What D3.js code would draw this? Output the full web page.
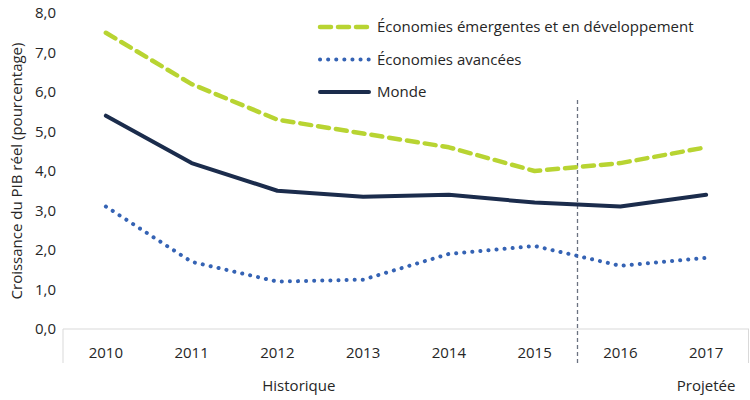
<!DOCTYPE html>
<html>
<head>
<meta charset="utf-8">
<script src="https://cdn.jsdelivr.net/npm/d3@7"></script>
<style>
  body { margin: 0; background: #fff; }
  text { font-family: "Open Sans", "Noto Sans", sans-serif; fill: #262626; }
</style>
</head>
<body>
<script>
// donnees
var annees = ["2010", "2011", "2012", "2013", "2014", "2015", "2016", "2017"];
var emergentes = [7.5, 6.2, 5.3, 4.95, 4.6, 4.0, 4.2, 4.6];
var avancees = [3.1, 1.7, 1.2, 1.25, 1.9, 2.1, 1.6, 1.8];
var monde = [5.4, 4.2, 3.5, 3.35, 3.4, 3.2, 3.1, 3.4];
var ticksY = [0, 1, 2, 3, 4, 5, 6, 7, 8];

var series = [
    { nom: "Économies émergentes et en développement", valeurs: emergentes, couleur: "#b8d432", dash: "11,7", largeur: 4.5, cap: "round" },
    { nom: "Économies avancées", valeurs: avancees, couleur: "#3563b4", dash: "0.1,8", largeur: 4, cap: "round" },
    { nom: "Monde", valeurs: monde, couleur: "#1b2c4c", dash: null, largeur: 4, cap: "round" }
];

var ancho = 750, altura = 400;
var margen = { superior: 13, derecho: 1, inferior: 71, izquierdo: 63 };

var svg = d3.select("body").append("svg")
    .attr("width", ancho)
    .attr("height", altura);

var x = d3.scaleBand()
    .domain(annees)
    .range([margen.izquierdo, ancho - margen.derecho]);

var y = d3.scaleLinear()
    .domain([0, 8])
    .range([altura - margen.inferior, margen.superior]);

var base = y(0);

// axe Y (libelles seulement)
var ejeY = d3.axisLeft(y)
    .tickValues(ticksY)
    .tickSize(0)
    .tickPadding(7)
    .tickFormat(function (d) { return d3.format(".1f")(d).replace(".", ","); });

var gy = svg.append("g")
    .attr("transform", "translate(" + margen.izquierdo + ",0)")
    .call(ejeY);
gy.select(".domain").remove();
gy.selectAll("text")
    .style("font-size", "15px")
    .style("font-family", "'Open Sans', sans-serif")
    .attr("fill", "#262626");

// ligne de base et separateurs de categories
svg.append("line")
    .attr("x1", x.range()[0]).attr("x2", x.range()[1])
    .attr("y1", base).attr("y2", base)
    .attr("stroke", "#d9d9d9").attr("stroke-width", 1);

[x.range()[0], x.range()[1] - 0.5].forEach(function (px) {
    svg.append("line")
        .attr("x1", px).attr("x2", px)
        .attr("y1", base).attr("y2", base + 34)
        .attr("stroke", "#d9d9d9").attr("stroke-width", 1);
});

// libelles des annees
svg.append("g").selectAll("text")
    .data(annees)
    .enter().append("text")
    .attr("x", function (d) { return x(d) + x.bandwidth() / 2; })
    .attr("y", base + 29)
    .attr("text-anchor", "middle")
    .style("font-size", "15px")
    .text(function (d) { return d; });

// separation historique / projetee
var sep = x("2016");
svg.append("line")
    .attr("x1", sep).attr("x2", sep)
    .attr("y1", 100).attr("y2", base + 36)
    .attr("stroke", "#6b7280")
    .attr("stroke-width", 1.3)
    .attr("stroke-dasharray", "4,3");

svg.append("text")
    .attr("x", x("2012") + x.bandwidth() * 0.75)
    .attr("y", base + 62)
    .attr("text-anchor", "middle")
    .style("font-size", "15px")
    .text("Historique");

svg.append("text")
    .attr("x", x("2017") + x.bandwidth() / 2)
    .attr("y", base + 62)
    .attr("text-anchor", "middle")
    .style("font-size", "15px")
    .text("Projetée");

// titre axe Y
svg.append("text")
    .attr("transform", "translate(22," + ((base + margen.superior) / 2) + ") rotate(-90)")
    .attr("text-anchor", "middle")
    .style("font-size", "15px")
    .text("Croissance du PIB réel (pourcentage)");

// lignes
var linea = d3.line()
    .x(function (d, i) { return x(annees[i]) + x.bandwidth() / 2; })
    .y(function (d) { return y(d); });

series.forEach(function (s) {
    svg.append("path")
        .datum(s.valeurs)
        .attr("d", linea)
        .attr("fill", "none")
        .attr("stroke", s.couleur)
        .attr("stroke-width", s.largeur)
        .attr("stroke-linecap", s.cap)
        .attr("stroke-linejoin", "round")
        .attr("stroke-dasharray", s.dash);
});

// legende
var leyenda = svg.append("g");
series.forEach(function (s, i) {
    var ly = 27 + i * 32.5;
    leyenda.append("line")
        .attr("x1", 320).attr("x2", 369)
        .attr("y1", ly).attr("y2", ly)
        .attr("stroke", s.couleur)
        .attr("stroke-width", s.largeur)
        .attr("stroke-linecap", s.cap)
        .attr("stroke-dasharray", s.dash);
    leyenda.append("text")
        .attr("x", 377)
        .attr("y", ly + 5)
        .style("font-size", "15px")
        .text(s.nom);
});
</script>
</body>
</html>
